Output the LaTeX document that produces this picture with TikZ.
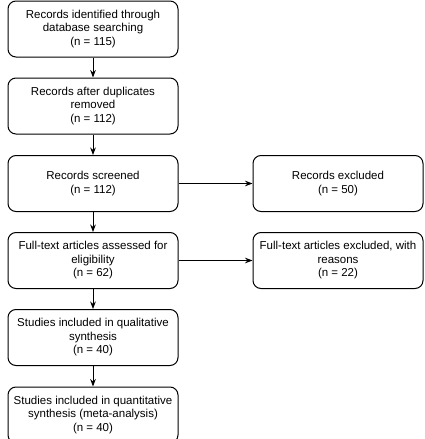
\documentclass[tikz,border=0pt]{standalone}
\usepackage{fontspec}
\setmainfont{Liberation Sans}
\usetikzlibrary{arrows.meta}

\begin{document}
\begin{tikzpicture}[>=Stealth,
    box/.style={draw, line width=1pt, rounded corners=8pt, minimum width=170pt, minimum height=56pt,
      align=center, inner sep=2pt, font=\fontsize{11.5pt}{13.5pt}\selectfont},
    flow/.style={->, line width=1pt}]
    \useasboundingbox (0pt,0pt) rectangle (424pt,-439pt);

    % Left column
    \node[box] (ident) at (93pt,-29pt) {Records identified through\\database searching\\(n = 115)};
    \node[box] (dedup) at (93pt,-106pt) {Records after duplicates\\removed\\(n = 112)};
    \node[box] (screen) at (93pt,-183.5pt) {Records screened\\(n = 112)};
    \node[box] (full) at (93pt,-260.5pt) {Full-text articles assessed for\\eligibility\\(n = 62)};
    \node[box] (qual) at (93pt,-337.5pt) {Studies included in qualitative\\synthesis\\(n = 40)};
    \node[box] (quant) at (93pt,-415pt) {Studies included in quantitative\\synthesis (meta-analysis)\\(n = 40)};

    % Right column
    \node[box] (excl) at (338pt,-183.5pt) {Records excluded\\(n = 50)};
    \node[box] (fullexcl) at (338pt,-260.5pt) {Full-text articles excluded, with\\reasons\\(n = 22)};

    % Arrows
    \draw[flow] (ident) -- (dedup);
    \draw[flow] (dedup) -- (screen);
    \draw[flow] (screen) -- (full);
    \draw[flow] (full) -- (qual);
    \draw[flow] (qual) -- (quant);
    \draw[flow] (screen) -- (excl);
    \draw[flow] (full) -- (fullexcl);
  \end{tikzpicture}
\end{document}
